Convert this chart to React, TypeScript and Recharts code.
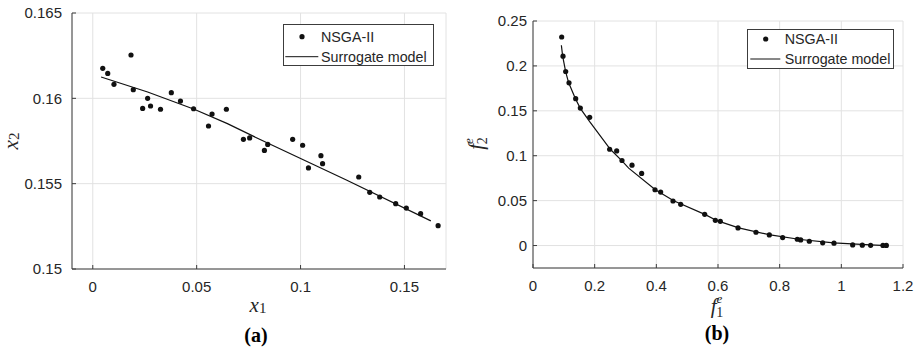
import React from "react";
import { ScatterChart, Scatter, XAxis, YAxis, CartesianGrid, Legend } from "recharts";

// panel (a): design variables
const NSGA_A_X = [0.0048, 0.0072, 0.0102, 0.0184, 0.0195, 0.024, 0.0264, 0.0278, 0.0326, 0.0378, 0.0422, 0.0485, 0.0557, 0.0574, 0.0643, 0.0725, 0.0755, 0.0826, 0.0842, 0.0962, 0.101, 0.1038, 0.1098, 0.1106, 0.128, 0.1333, 0.1381, 0.1458, 0.1509, 0.1578, 0.1662];
const NSGA_A_Y = [0.16176, 0.16146, 0.16082, 0.16254, 0.16051, 0.15941, 0.16, 0.15955, 0.15936, 0.16033, 0.15984, 0.15939, 0.15838, 0.15908, 0.15936, 0.1576, 0.15768, 0.15695, 0.1573, 0.1576, 0.15725, 0.15592, 0.15664, 0.15617, 0.15539, 0.15449, 0.15422, 0.15383, 0.15357, 0.15324, 0.15254];
const FIT_A_X = [0.004, 0.0264, 0.0488, 0.0648, 0.0808, 0.1218, 0.1627];
const FIT_A_Y = [0.16125, 0.16037, 0.15936, 0.15852, 0.15757, 0.15523, 0.15282];
const TICKS_A_X = [0, 0.05, 0.1, 0.15];
const TICKS_A_Y = [0.15, 0.155, 0.16, 0.165];

// panel (b): objectives
const NSGA_B_X = [0.093, 0.0973, 0.106, 0.1168, 0.1384, 0.1535, 0.1838, 0.2486, 0.2714, 0.2886, 0.3211, 0.3524, 0.3957, 0.414, 0.454, 0.479, 0.5568, 0.5914, 0.6076, 0.6649, 0.7232, 0.7665, 0.8097, 0.8573, 0.8681, 0.8962, 0.9395, 0.9762, 1.0368, 1.068, 1.095, 1.135, 1.146];
const NSGA_B_Y = [0.2322, 0.2108, 0.1938, 0.1812, 0.1635, 0.1531, 0.1428, 0.1072, 0.1054, 0.0947, 0.0895, 0.0803, 0.0621, 0.0595, 0.0496, 0.0459, 0.0348, 0.0281, 0.027, 0.0196, 0.0148, 0.0118, 0.0089, 0.007, 0.0063, 0.0048, 0.003, 0.0026, 0.0007, 0.0004, 0.0002, 0.0001, 0.0001];
const FIT_B_X = [0.092, 0.0962, 0.106, 0.1157, 0.1373, 0.1535, 0.1838, 0.2508, 0.2886, 0.3103, 0.3968, 0.4562, 0.5589, 0.5968, 0.667, 0.7697, 0.867, 0.975, 1.094, 1.148];
const FIT_B_Y = [0.223, 0.2108, 0.1934, 0.1812, 0.1638, 0.1527, 0.138, 0.1072, 0.0943, 0.0862, 0.0621, 0.0499, 0.0344, 0.0277, 0.0196, 0.0118, 0.0067, 0.003, 0.0007, 0];
const TICKS_B_X = [0, 0.2, 0.4, 0.6, 0.8, 1, 1.2];
const TICKS_B_Y = [0, 0.05, 0.1, 0.15, 0.2, 0.25];

const SERIES = ["NSGA-II", "Surrogate model"];

const INK = "#262626";
const BOX = "#3c3c3c";
const GRID = "#e2e2e2";
const SANS = "'Liberation Sans', Arial, sans-serif";
const SERIF = "'Liberation Serif', 'Times New Roman', serif";
const TICK = { fill: INK, fontSize: 15, fontFamily: SANS };

const zip = (xs: number[], ys: number[]) => xs.map((x, i) => ({ x, y: ys[i] }));

const dot = (p: any) => <circle cx={p.cx} cy={p.cy} r={2.6} fill="#111" />;
const none = () => <g />;

function MatlabLegend({ w, h, dotX, textX, y1, y2, lx1, lx2 }: any) {
  return (
    <svg width={w} height={h} style={{ display: "block" }}>
      <rect x={0.5} y={0.5} width={w - 1} height={h - 1} fill="#fff" stroke={BOX} />
      <circle cx={dotX} cy={y1} r={2.6} fill="#111" />
      <text x={textX} y={y1} dy="0.36em" fontSize={14.3} fontFamily={SANS} fill={INK}>
        {SERIES[0]}
      </text>
      <line x1={lx1} x2={lx2} y1={y2} y2={y2} stroke="#111" strokeWidth={1} />
      <text x={textX} y={y2} dy="0.36em" fontSize={14.3} fontFamily={SANS} fill={INK}>
        {SERIES[1]}
      </text>
    </svg>
  );
}

// x_1 and (a) under the left panel
function LabelA(p: any) {
  const vb = p.viewBox;
  const cx = vb.x + vb.width / 2;
  return (
    <g>
      <text x={cx - 1} y={vb.y + 43} textAnchor="middle" fontFamily={SERIF} fill={INK}>
        <tspan fontStyle="italic" fontSize={21}>x</tspan>
        <tspan fontSize={15} dy={1}>1</tspan>
      </text>
      <text x={cx - 3} y={vb.y + 73} textAnchor="middle" fontFamily={SERIF} fontWeight="bold" fontSize={20} fill="#000">
        (a)
      </text>
    </g>
  );
}

function LabelAY(p: any) {
  const vb = p.viewBox;
  return (
    <g transform={`translate(${vb.x + 6},${vb.y + vb.height / 2}) rotate(-90)`}>
      <text x={0} y={0} textAnchor="middle" fontFamily={SERIF} fill={INK}>
        <tspan fontStyle="italic" fontSize={21}>x</tspan>
        <tspan fontSize={15} dy={1}>2</tspan>
      </text>
    </g>
  );
}

function LabelB(p: any) {
  const vb = p.viewBox;
  const cx = vb.x + vb.width / 2;
  return (
    <g>
      <text x={cx - 1} y={vb.y + 45} textAnchor="middle" fontFamily={SERIF} fill={INK}>
        <tspan fontStyle="italic" fontSize={21}>f</tspan>
        <tspan fontStyle="italic" fontSize={13} dy={-10}>e</tspan>
        <tspan fontSize={14} dx={-6} dy={14}>1</tspan>
      </text>
      <text x={cx - 1} y={vb.y + 72} textAnchor="middle" fontFamily={SERIF} fontWeight="bold" fontSize={20} fill="#000">
        (b)
      </text>
    </g>
  );
}

function LabelBY(p: any) {
  const vb = p.viewBox;
  return (
    <g transform={`translate(${vb.x + 10},${vb.y + vb.height / 2 - 1}) rotate(-90)`}>
      <text x={0} y={0} textAnchor="middle" fontFamily={SERIF} fill={INK}>
        <tspan fontStyle="italic" fontSize={21}>f</tspan>
        <tspan fontStyle="italic" fontSize={13} dy={-10}>e</tspan>
        <tspan fontSize={14} dx={-6} dy={14}>2</tspan>
      </text>
    </g>
  );
}

function Panel(props: any) {
  const { width, margin, xDomain, yDomain, xTicks, yTicks, dots, fit, xLabel, yLabel, yTickMargin, legend } = props;
  return (
    <ScatterChart width={width} height={352} margin={margin}>
      <CartesianGrid stroke={GRID} strokeWidth={1} />
      <XAxis
        type="number"
        dataKey="x"
        domain={xDomain}
        ticks={xTicks}
        allowDataOverflow
        height={margin.bottomAxis}
        tick={TICK}
        tickSize={-4}
        tickMargin={16}
        stroke={BOX}
        tickLine={{ stroke: BOX }}
        label={xLabel}
      />
      <XAxis xAxisId="top" orientation="top" type="number" domain={xDomain} ticks={xTicks} allowDataOverflow height={0} tick={false} tickSize={-4} stroke={BOX} />
      <YAxis
        type="number"
        dataKey="y"
        domain={yDomain}
        ticks={yTicks}
        allowDataOverflow
        width={60}
        tick={TICK}
        tickSize={-4}
        tickMargin={yTickMargin}
        stroke={BOX}
        tickLine={{ stroke: BOX }}
        label={yLabel}
      />
      <YAxis yAxisId="right" orientation="right" type="number" domain={yDomain} ticks={yTicks} allowDataOverflow width={0} tick={false} tickSize={-4} stroke={BOX} />
      <Legend
        layout="horizontal"
        verticalAlign="middle"
        align="center"
        wrapperStyle={{ left: legend.left, top: legend.top, width: legend.w, height: legend.h }}
        content={() => <MatlabLegend {...legend} />}
      />
      <Scatter name={SERIES[0]} data={dots} shape={dot} isAnimationActive={false} />
      <Scatter
        name={SERIES[1]}
        data={fit}
        shape={none}
        line={{ stroke: "#111", strokeWidth: 1.2 }}
        isAnimationActive={false}
      />
    </ScatterChart>
  );
}

export default function App() {
  return (
    <div style={{ position: "absolute", left: 0, top: 0, width: 917, height: 352, background: "#fff", display: "flex" }}>
      <Panel
        width={460}
        margin={{ top: 13, right: 14, bottom: 0, left: 12, bottomAxis: 83 }}
        xDomain={[-0.01, 0.17]}
        yDomain={[0.15, 0.165]}
        xTicks={TICKS_A_X}
        yTicks={TICKS_A_Y}
        dots={zip(NSGA_A_X, NSGA_A_Y)}
        fit={zip(FIT_A_X, FIT_A_Y)}
        xLabel={(p: any) => <LabelA {...p} />}
        yLabel={(p: any) => <LabelAY {...p} />}
        yTickMargin={14}
        legend={{ left: 283, top: 24, w: 151, h: 42, dotX: 19, textX: 38, y1: 12.7, y2: 32.7, lx1: 2.3, lx2: 35.3 }}
      />
      <Panel
        width={457}
        margin={{ top: 21, right: 14, bottom: 0, left: 13, bottomAxis: 84 }}
        xDomain={[0, 1.2]}
        yDomain={[-0.025, 0.25]}
        xTicks={TICKS_B_X}
        yTicks={TICKS_B_Y}
        dots={zip(NSGA_B_X, NSGA_B_Y)}
        fit={zip(FIT_B_X, FIT_B_Y)}
        xLabel={(p: any) => <LabelB {...p} />}
        yLabel={(p: any) => <LabelBY {...p} />}
        yTickMargin={10}
        legend={{ left: 287, top: 29, w: 147, h: 40, dotX: 18.7, textX: 37.7, y1: 10, y2: 30, lx1: 3.3, lx2: 33.3 }}
      />
    </div>
  );
}
